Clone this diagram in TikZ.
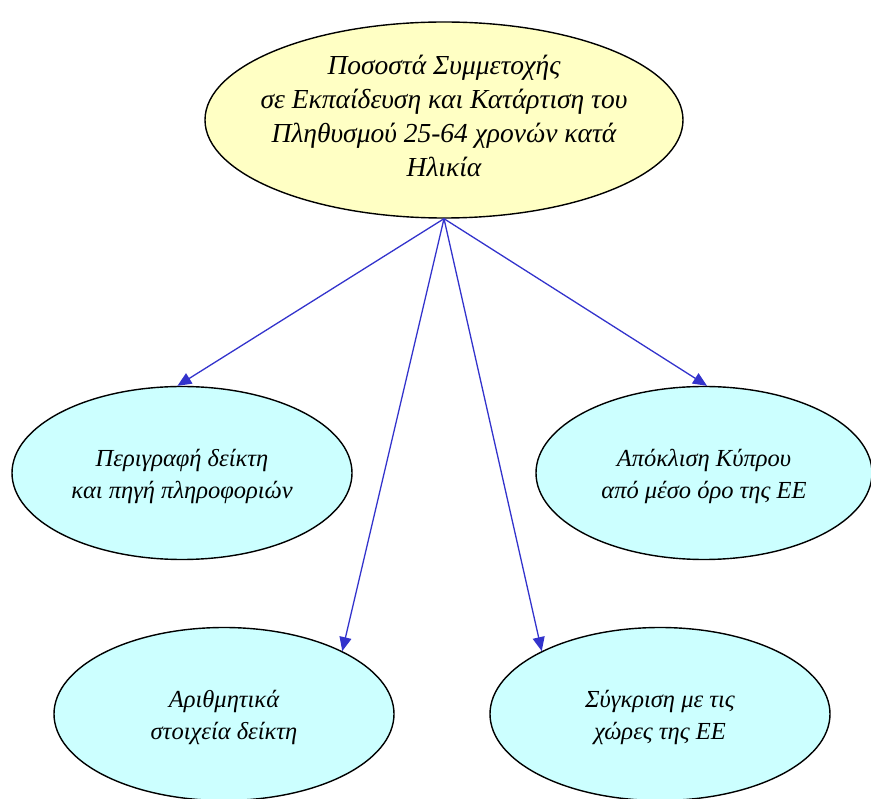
\documentclass[tikz,border=0pt]{standalone}
\usepackage{fontspec}
\setmainfont{Liberation Serif}
\usetikzlibrary{shapes.geometric,arrows.meta}
\definecolor{topfill}{HTML}{FFFFC4}
\definecolor{subfill}{HTML}{CCFFFF}
\definecolor{arrowblue}{HTML}{3333CC}
\tikzset{
  oval/.style={ellipse, draw=black, line width=1.4pt, inner sep=0pt},
  topoval/.style={oval, fill=topfill, minimum width=478pt, minimum height=196pt},
  toptext/.style={align=center, inner sep=0pt, font=\itshape\fontsize{27.5}{34}\selectfont},
  suboval/.style={oval, fill=subfill, minimum width=340pt, minimum height=173pt},
  subtext/.style={align=center, inner sep=0pt, font=\itshape\fontsize{24.5}{32}\selectfont},
  link/.style={draw=arrowblue, line width=1.3pt, -{Triangle[length=14pt,width=12pt]}, arrowblue}
}
\begin{document}
\begin{tikzpicture}[x=1pt,y=-1pt]
\useasboundingbox (0,0) rectangle (871,799);
\node[topoval] (top) at (444,120) {};
\node[toptext] (toplabel) at (444,116) {Ποσοστά Συμμετοχής\\σε Εκπαίδευση και Κατάρτιση του\\Πληθυσμού 25-64 χρονών κατά\\Ηλικία};
\node[suboval] (desc) at (182,473) {};
\node[subtext] (desclabel) at (182,476) {Περιγραφή δείκτη\\και πηγή πληροφοριών};
\node[suboval, minimum width=336pt] (dev) at (704,473) {};
\node[subtext] (devlabel) at (704,476) {Απόκλιση Κύπρου\\από μέσο όρο της ΕΕ};
\node[suboval] (num) at (224,714) {};
\node[subtext] (numlabel) at (224,717) {Αριθμητικά\\στοιχεία δείκτη};
\node[suboval] (cmp) at (660,714) {};
\node[subtext] (cmplabel) at (660,717) {Σύγκριση με τις\\χώρες της ΕΕ};
\coordinate (src) at (top.south);
\draw[link] (src) -- (desc.93);
\draw[link] (src) -- (dev.88);
\draw[link] (src) -- (num.28);
\draw[link] (src) -- (cmp.152);
\end{tikzpicture}
\end{document}
